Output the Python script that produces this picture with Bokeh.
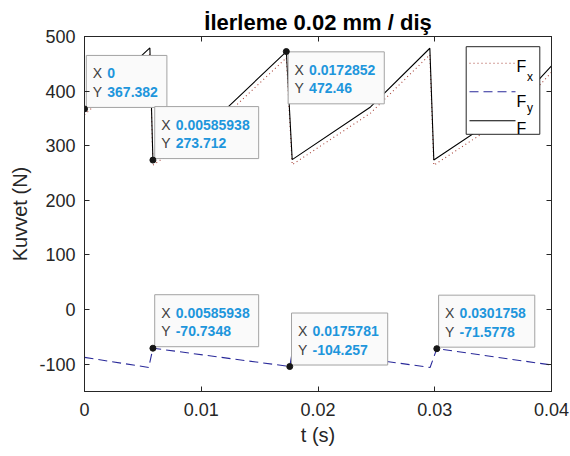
from bokeh.plotting import figure
from bokeh.models import Range1d, LinearAxis, FixedTicker
from bokeh.core.properties import value
from bokeh.embed import file_html
from bokeh.resources import INLINE

# ---------------- data ----------------
t_F = [0.0, 0.00560, 0.00586, 0.01210, 0.01729, 0.01779, 0.02450, 0.02958, 0.02992, 0.03680, 0.04]
F = [367.382, 479.0, 273.712, 367.0, 472.46, 274.6, 371.0, 478.5, 273.8, 372.0, 446.0]

t_Fx = [0.0, 0.00560, 0.00586, 0.01210, 0.01729, 0.01779, 0.02450, 0.02958, 0.02992, 0.03680, 0.04]
Fx = [356.8, 467.3, 264.4, 356.0, 461.0, 265.3, 359.7, 466.6, 264.3, 360.7, 434.4]

t_Fy = [0.0, 0.00550, 0.00586, 0.01758, 0.01785, 0.02960, 0.03018, 0.04]
Fy = [-87.5, -106.0, -70.7348, -104.257, -71.0, -106.0, -71.5778, -101.5]

tip_x = [0.0, 0.00585938, 0.0172852, 0.00585938, 0.0175781, 0.0301758]
tip_y = [367.382, 273.712, 472.46, -70.7348, -104.257, -71.5778]
tip_xlabel = ["0", "0.00585938", "0.0172852", "0.00585938", "0.0175781", "0.0301758"]
tip_ylabel = ["367.382", "273.712", "472.46", "-70.7348", "-104.257", "-71.5778"]
tip_up = [True, True, False, True, True, True]

xticks = [0.0, 0.01, 0.02, 0.03, 0.04]
xtick_labels = ["0", "0.01", "0.02", "0.03", "0.04"]
yticks = [-100, 0, 100, 200, 300, 400, 500]
ytick_labels = ["-100", "0", "100", "200", "300", "400", "500"]

title_text = "İlerleme 0.02 mm / diş"
xlabel = "t (s)"
ylabel = "Kuvvet (N)"

# ---------------- layout ----------------
X0, X1 = 0.0, 0.04
Y0, Y1 = -150.0, 500.0
BL, BR, BT, BB = 84, 19, 36, 65
FW, FH = 467, 355
W, H = BL + FW + BR, BT + FH + BB
FONT = "Liberation Sans"
AX = "#262626"

def dx(px):
    return px * (X1 - X0) / FW

def dy(px):
    return px * (Y1 - Y0) / FH

p = figure(width=W, height=H,
           min_border_left=BL, min_border_right=BR, min_border_top=BT, min_border_bottom=BB,
           x_range=Range1d(X0, X1), y_range=Range1d(Y0, Y1),
           output_backend="svg", toolbar_location=None, tools="",
           background_fill_color="white", border_fill_color="white")

p.xgrid.visible = False
p.ygrid.visible = False
p.outline_line_color = AX
p.outline_line_width = 1

p.title.text = title_text
p.title.align = "center"
p.title.text_font = FONT
p.title.text_font_size = "22px"
p.title.text_font_style = "bold"
p.title.text_color = "black"
p.title.standoff = 4

xo = {v: s for v, s in zip(xticks, xtick_labels)}
yo = {v: s for v, s in zip(yticks, ytick_labels)}

for ax, ticks, over in ((p.xaxis[0], xticks, xo), (p.yaxis[0], yticks, yo)):
    ax.ticker = FixedTicker(ticks=ticks)
    ax.major_label_overrides = over
    ax.major_tick_in = 5
    ax.major_tick_out = 0
    ax.minor_tick_line_color = None
    ax.axis_line_color = AX
    ax.major_tick_line_color = AX
    ax.major_label_text_font = FONT
    ax.major_label_text_font_size = "18px"
    ax.major_label_text_color = AX
    ax.axis_label_text_font = FONT
    ax.axis_label_text_font_size = "20px"
    ax.axis_label_text_font_style = "normal"
    ax.axis_label_text_color = AX

p.xaxis.axis_label = xlabel
p.yaxis.axis_label = ylabel
p.xaxis.major_label_standoff = 11
p.xaxis.axis_label_standoff = 5
p.yaxis.major_label_standoff = 9
p.yaxis.axis_label_standoff = 5

for side, ticks in (("above", xticks), ("right", yticks)):
    a = LinearAxis(ticker=FixedTicker(ticks=ticks), major_tick_in=5, major_tick_out=0,
                   minor_tick_line_color=None, axis_line_color=AX, major_tick_line_color=AX,
                   major_label_overrides={v: "" for v in ticks},
                   major_label_text_font_size="1px", major_label_standoff=0)
    p.add_layout(a, side)

# ---------------- series ----------------
p.line(t_Fx, Fx, line_color="#a8443a", line_width=1.1, line_dash="1 3")
p.line(t_Fy, Fy, line_color="#2a2a9a", line_width=1.1, line_dash="9 5")
p.line(t_F, F, line_color="black", line_width=1.1)

# ---------------- data tips ----------------
def text_w(s, size=14):
    w = 0.0
    for ch in s:
        if ch.isdigit():
            w += 0.556
        elif ch == ".":
            w += 0.278
        elif ch == "-":
            w += 0.333
        else:
            w += 0.6
    return w * size

bl, br, bt, bb = [], [], [], []
lx, ly1, ly2, vx = [], [], [], []
for x, y, sx, sy, up in zip(tip_x, tip_y, tip_xlabel, tip_ylabel, tip_up):
    w = 21 + max(text_w(sx), text_w(sy)) + 9
    h = 52
    left = x + dx(1.8)
    if up:
        bottom = y + dy(1.5)
        top = bottom + dy(h)
    else:
        top = y - dy(0.3)
        bottom = top - dy(h)
    bl.append(left); br.append(left + dx(w)); bt.append(top); bb.append(bottom)
    lx.append(left + dx(6.5)); vx.append(left + dx(21))
    ly1.append(top - dy(18)); ly2.append(top - dy(36.5))

p.quad(left=bl, right=br, top=bt, bottom=bb, fill_color="#fafafa",
       line_color="#a3a3a3", line_width=1)
p.text(x=lx, y=ly1, text=["X"] * len(lx), text_font=value(FONT), text_font_size="14px",
       text_color="#404040", text_baseline="middle", text_align="left")
p.text(x=lx, y=ly2, text=["Y"] * len(lx), text_font=value(FONT), text_font_size="14px",
       text_color="#404040", text_baseline="middle", text_align="left")
p.text(x=vx, y=ly1, text=tip_xlabel, text_font=value(FONT), text_font_size="14px",
       text_font_style="bold", text_color="#1e96dc", text_baseline="middle", text_align="left")
p.text(x=vx, y=ly2, text=tip_ylabel, text_font=value(FONT), text_font_size="14px",
       text_font_style="bold", text_color="#1e96dc", text_baseline="middle", text_align="left")
p.scatter(tip_x, tip_y, size=6, fill_color="#161616", line_color="#161616")

# ---------------- legend (drawn by hand) ----------------
leg_l = X1 - dx(85.3)
leg_r = X1 - dx(11.7)
leg_t = Y1 - dy(10.2)
leg_b = Y1 - dy(97.8)
p.quad(left=[leg_l], right=[leg_r], top=[leg_t], bottom=[leg_b], fill_color="white",
       line_color=AX, line_width=1)

row_line = [26.8, 55.2, 84.2]
row_F = [30.2, 64.5, 91.8]
sx0, sx1 = X1 - dx(82), X1 - dx(36)
p.line([sx0, sx1], [Y1 - dy(row_line[0])] * 2, line_color="#a8443a", line_width=1.1, line_dash="1 3")
p.line([sx0, sx1], [Y1 - dy(row_line[1])] * 2, line_color="#2a2a9a", line_width=1.1, line_dash="9 5")
p.line([sx0, sx1], [Y1 - dy(row_line[2])] * 2, line_color="black", line_width=1.1)
p.text(x=[X1 - dx(35)] * 3, y=[Y1 - dy(r) for r in row_F], text=["F", "F", "F"],
       text_font=value(FONT), text_font_size="16px", text_color="black",
       text_baseline="alphabetic", text_align="left")
p.text(x=[X1 - dx(24.5)] * 2, y=[Y1 - dy(40.2), Y1 - dy(71.5)], text=["x", "y"],
       text_font=value(FONT), text_font_size="12px", text_color="black",
       text_baseline="alphabetic", text_align="left")

open("out.html", "w").write(file_html(p, INLINE))
